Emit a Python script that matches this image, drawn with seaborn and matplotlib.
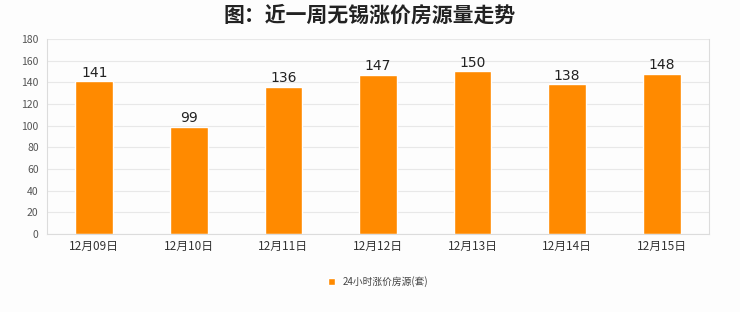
import matplotlib
matplotlib.use("Agg")
import matplotlib.pyplot as plt
import seaborn as sns
import pandas as pd

categories = ["12月09日", "12月10日", "12月11日", "12月12日", "12月13日", "12月14日", "12月15日"]
values = [141, 99, 136, 147, 150, 138, 148]
series_name = "24小时涨价房源(套)"
title = "图：近一周无锡涨价房源量走势"
yticks = [0, 20, 40, 60, 80, 100, 120, 140, 160, 180]

sns.set_theme(style="white")
plt.rcParams['font.family'] = ['Noto Sans CJK SC', 'DejaVu Sans']

df = pd.DataFrame({"date": categories, "value": values, "series": series_name})

fig = plt.figure(figsize=(7.4, 3.12), dpi=100)
fig.patch.set_facecolor("#fdfdfd")
ax = fig.add_axes([47/740, 1 - 234/312, (709 - 47)/740, (234 - 39)/312])
ax.set_facecolor("#fdfdfd")

sns.barplot(data=df, x="date", y="value", hue="series", palette=["#ff8a00"],
            width=0.4, ax=ax, saturation=1, legend=True)

ax.set_ylim(0, 180)
ax.set_yticks(yticks)
ax.yaxis.grid(True, color="#e8e8e8", linewidth=0.8)
ax.set_axisbelow(True)
ax.spines["top"].set_visible(False)
for s in ["left", "bottom", "right"]:
    ax.spines[s].set_color("#dcdcdc")
    ax.spines[s].set_linewidth(0.8)
ax.tick_params(axis="y", labelsize=7.5, colors="#555555", length=0, pad=6)
ax.tick_params(axis="x", labelsize=8.5, colors="#333333", length=0, pad=4)
ax.set_xlabel("")
ax.set_ylabel("")

for c in ax.containers:
    ax.bar_label(c, labels=[str(v) for v in values], fontsize=10, color="#222222",
                 padding=1, family="DejaVu Sans")

ax.legend(loc="upper center", bbox_to_anchor=(0.5, -0.17), frameon=False, fontsize=7,
          handlelength=0.7, handleheight=0.7, labelcolor="#444444")

fig.text(0.5, 0.95, title, ha="center", va="center", fontsize=15, fontweight="bold", color="#222222")

fig.savefig("out.png", dpi=100, facecolor=fig.get_facecolor())
